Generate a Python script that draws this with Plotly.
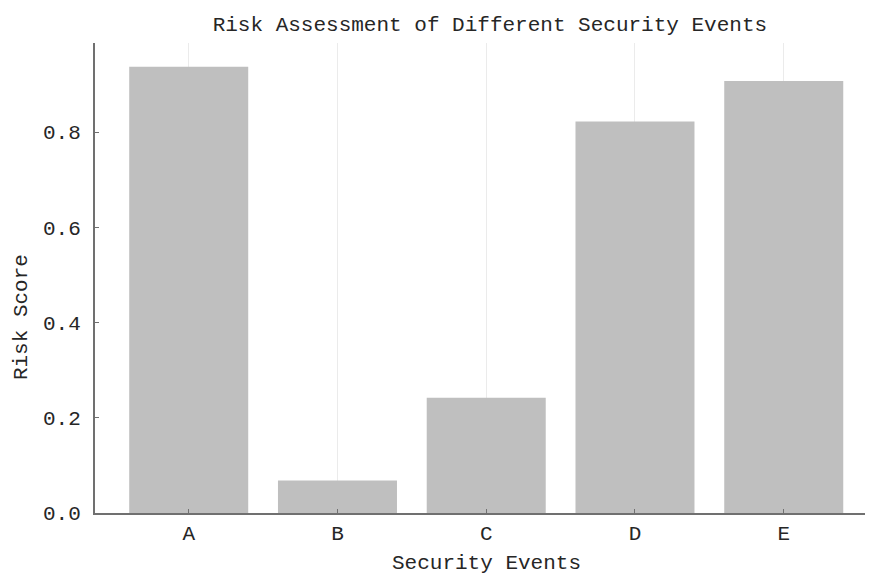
import plotly.graph_objects as go

categories = ["A", "B", "C", "D", "E"]
risk_scores = [0.937, 0.068, 0.242, 0.822, 0.907]
y_ticks = [0.0, 0.2, 0.4, 0.6, 0.8]
y_tick_labels = ["0.0", "0.2", "0.4", "0.6", "0.8"]

FONT = "Liberation Mono, DejaVu Sans Mono, monospace"
TXT = "#262626"

fig = go.Figure()
fig.add_trace(go.Bar(
    x=list(range(len(categories))),
    y=risk_scores,
    width=0.8,
    marker=dict(color="#bfbfbf", line=dict(width=0)),
    showlegend=False,
))

fig.update_layout(
    width=873, height=576,
    margin=dict(l=87, r=8, t=35, b=71),
    paper_bgcolor="white",
    plot_bgcolor="white",
    font=dict(family=FONT, size=21, color=TXT),
    title=dict(text="Risk Assessment of Different Security Events",
               x=0.552, xanchor="center", y=0.986, yanchor="top",
               font=dict(family=FONT, size=21, color=TXT)),
    bargap=0.2,
    annotations=[
        dict(text="Security Events", xref="paper", yref="paper",
             x=0.503, y=-0.078, xanchor="center", yanchor="top",
             showarrow=False, font=dict(family=FONT, size=21, color=TXT)),
        dict(text="Risk Score", xref="paper", yref="paper",
             x=-0.095, y=0.417, xanchor="center", yanchor="middle", textangle=-90,
             showarrow=False, font=dict(family=FONT, size=21, color=TXT)),
    ],
)

fig.update_xaxes(
    range=[-0.63, 4.6],
    tickmode="array",
    tickvals=list(range(len(categories))),
    ticktext=categories,
    showgrid=True, gridcolor="#ebebeb", gridwidth=1,
    showline=True, linecolor="#707070", linewidth=2,
    ticks="inside", ticklen=4, tickcolor="#707070",
    zeroline=False,
    tickfont=dict(family=FONT, size=21, color=TXT),
)
fig.update_yaxes(
    range=[0, 0.987],
    tickmode="array",
    tickvals=y_ticks,
    ticktext=y_tick_labels,
    showgrid=False,
    showline=True, linecolor="#707070", linewidth=2,
    ticks="inside", ticklen=4, tickcolor="#707070",
    zeroline=False,
    ticklabelstandoff=8,
    tickfont=dict(family=FONT, size=21, color=TXT),
)

fig.write_html("out.html")
